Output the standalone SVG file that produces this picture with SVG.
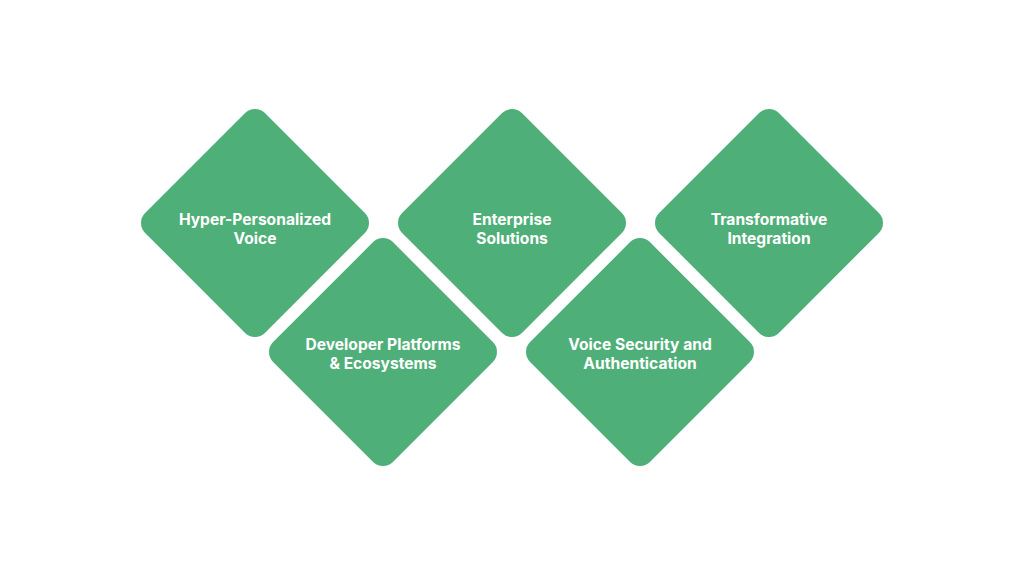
<svg xmlns="http://www.w3.org/2000/svg" width="1024" height="576" viewBox="0 0 1024 576">
<style>
.d{fill:#4FAF78}
.t{fill:#fff;font-family:Inter,"Liberation Sans",sans-serif;font-weight:700;font-size:15.6px;text-anchor:middle}
</style>
<defs><rect id="dm" x="-84.7" y="-84.7" width="169.4" height="169.4" rx="14" transform="rotate(45)"/></defs>
<rect width="1024" height="576" fill="#fff"/>
<g id="connectors"/>
<g id="n1" transform="translate(255,223)"><use href="#dm" class="d"/><text class="t" y="2">Hyper-Personalized</text><text class="t" y="21">Voice</text></g>
<g id="n2" transform="translate(383,352)"><use href="#dm" class="d"/><text class="t" y="-2">Developer Platforms</text><text class="t" y="17">&amp; Ecosystems</text></g>
<g id="n3" transform="translate(512,223)"><use href="#dm" class="d"/><text class="t" y="2">Enterprise</text><text class="t" y="21">Solutions</text></g>
<g id="n4" transform="translate(640,352)"><use href="#dm" class="d"/><text class="t" y="-2">Voice Security and</text><text class="t" y="17">Authentication</text></g>
<g id="n5" transform="translate(769,223)"><use href="#dm" class="d"/><text class="t" y="2">Transformative</text><text class="t" y="21">Integration</text></g>
</svg>
